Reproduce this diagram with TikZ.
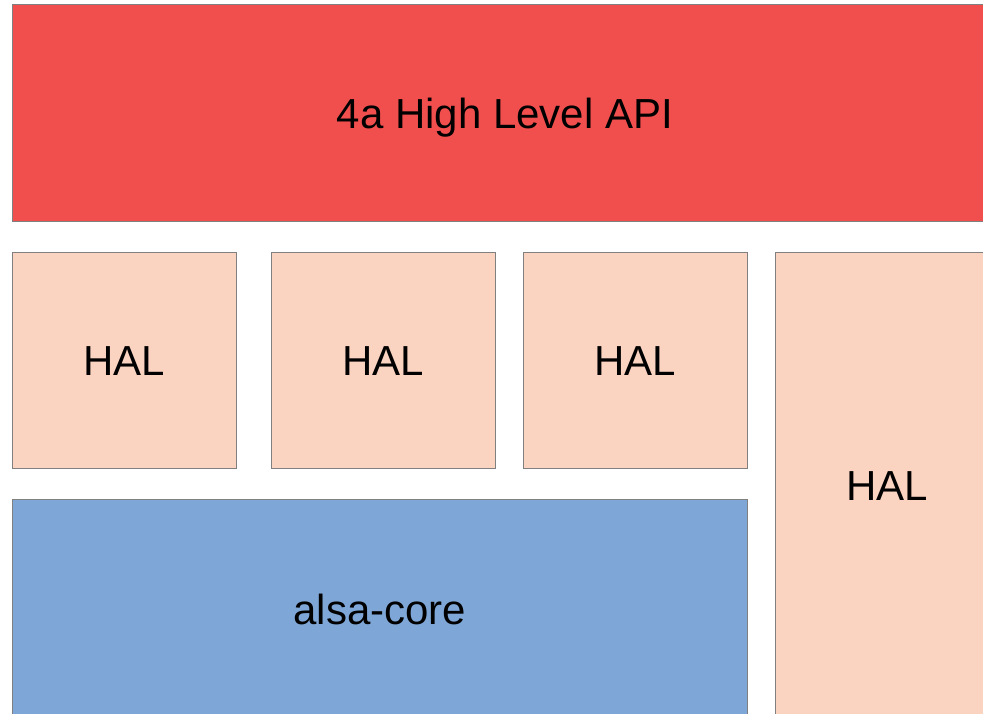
\documentclass[tikz,border=0pt]{standalone}
\usepackage{fontspec}
\setmainfont{Liberation Sans}
\definecolor{apired}{RGB}{240,79,78}
\definecolor{halfill}{RGB}{251,211,193}
\definecolor{alsablue}{RGB}{126,167,216}
\definecolor{edgegray}{RGB}{128,128,128}
\begin{document}
\begin{tikzpicture}[x=0.75pt,y=-0.75pt,
  layer/.style={draw=edgegray,line width=0.75pt},
  label/.style={font=\fontsize{31.5}{36}\selectfont,text=black,inner sep=0pt}]
\useasboundingbox (0,0) rectangle (983,714);
\begin{scope}
\clip (0,0) rectangle (983,714);
\path[layer,fill=apired] (12,4) rectangle (1000,221);
\path[layer,fill=halfill] (12,252) rectangle (236,468);
\path[layer,fill=halfill] (271,252) rectangle (495,468);
\path[layer,fill=halfill] (523,252) rectangle (747,468);
\path[layer,fill=halfill] (775,252) rectangle (1000,720);
\path[layer,fill=alsablue] (12,499) rectangle (747,720);
\end{scope}
\node[label] (api) at (505,118) {4a High Level API};
\node[label] (hal1) at (124,361) {HAL};
\node[label] (hal2) at (383,361) {HAL};
\node[label] (hal3) at (635,361) {HAL};
\node[label] (hal4) at (887,486) {HAL};
\node[label] (alsa) at (380,609) {alsa-core};
\end{tikzpicture}
\end{document}
